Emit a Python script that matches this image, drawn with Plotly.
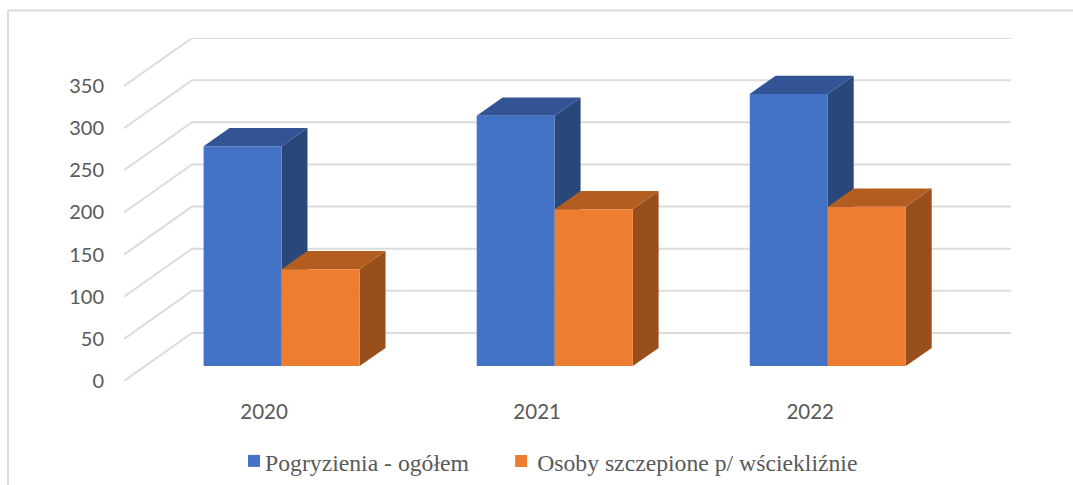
import plotly.graph_objects as go

# Data
years = ["2020", "2021", "2022"]
bites = [261, 297, 323]
vaccinated = [115, 186, 189]
value_ticks = [0, 50, 100, 150, 200, 250, 300, 350]
series_names = ["Pogryzienia - ogółem", "Osoby szczepione p/ wściekliźnie"]

W, H = 1073, 485
L, R, T, B = 124, 1010.7, 38, 381
PX_X = 273.0
PX_Y = 295 / 350
DX = 68 / PX_X
DY = 48 / PX_Y
BW = 78 / PX_X
D0, D1 = 0.31, 0.69
GRID = "#dcdcdc"
TXT = "#595959"


def px(xp):
    return (xp - L) / (R - L)


def py(yp):
    return (B - yp) / (B - T)


def proj(x, v, d):
    return x + d * DX, v + d * DY


def poly(points):
    xs, ys = zip(*points)
    return list(xs) + [xs[0], None], list(ys) + [ys[0], None]


def faces(values, left_off):
    front, side, top = ([], []), ([], []), ([], [])
    for i, v in enumerate(values):
        a = i + left_off
        b = a + BW
        for store, pts in (
            (side, [proj(b, 0, D0), proj(b, 0, D1), proj(b, v, D1), proj(b, v, D0)]),
            (top, [proj(a, v, D0), proj(b, v, D0), proj(b, v, D1), proj(a, v, D1)]),
            (front, [proj(a, 0, D0), proj(b, 0, D0), proj(b, v, D0), proj(a, v, D0)]),
        ):
            xs, ys = poly(pts)
            store[0].extend(xs)
            store[1].extend(ys)
    return front, side, top


fig = go.Figure()

# walls: gridlines on the left wall and on the back wall
gx, gy = [], []
for v in value_ticks:
    gx += [-0.5, -0.5 + DX, 2.5 + DX, None]
    gy += [v, v + DY, v + DY, None]
fig.add_trace(go.Scatter(x=gx, y=gy, mode="lines", line=dict(color=GRID, width=2),
                         hoverinfo="skip", showlegend=False))


def add_face(face, color, name):
    fig.add_trace(go.Scatter(x=face[0], y=face[1], mode="lines", fill="toself",
                             fillcolor=color, line=dict(width=0, color=color),
                             name=name, hoverinfo="name", showlegend=False))


series = [
    (bites, -BW, ("#4472c4", "#2a4779", "#325495")),
    (vaccinated, 0, ("#ed7d31", "#984f1c", "#b35e20")),
]
for (vals, off, cols), nm in zip(series, series_names):
    fr, si, to = faces(vals, off)
    add_face(si, cols[1], nm)
    add_face(to, cols[2], nm)
    add_face(fr, cols[0], nm)

# legend entries
legend_names = ["legend", "legend2"]
for nm, col, lg in zip(series_names, ["#4472c4", "#ed7d31"], legend_names):
    fig.add_trace(go.Scatter(x=[None], y=[None], mode="markers", name=nm, legend=lg,
                             marker=dict(symbol="square", size=12, color=col)))

legend_font = dict(family="Liberation Serif", size=23.7, color=TXT)
leg = dict(orientation="h", xanchor="left", yanchor="middle", y=py(462),
           font=legend_font, bgcolor="rgba(0,0,0,0)", itemsizing="trace")

fig.update_layout(
    width=W, height=H,
    margin=dict(l=L, r=W - R, t=T, b=H - B, autoexpand=False),
    paper_bgcolor="white", plot_bgcolor="white",
    xaxis=dict(range=[-0.5, -0.5 + (R - L) / PX_X], tickmode="array",
               tickvals=[i + 3.5 / PX_X for i in range(len(years))], ticktext=years,
               showgrid=False, zeroline=False, showline=False, ticks="outside",
               ticklen=12, tickcolor="rgba(0,0,0,0)",
               tickfont=dict(family="Lato", size=20.5, color=TXT), fixedrange=True),
    yaxis=dict(range=[0, (B - T) / PX_Y], tickmode="array", tickvals=value_ticks,
               showgrid=False, zeroline=False, showline=False, ticks="outside",
               ticklen=15, tickcolor="rgba(0,0,0,0)",
               tickfont=dict(family="Lato", size=20, color=TXT), fixedrange=True),
    legend=dict(x=px(225), **leg),
    legend2=dict(x=px(497), **leg),
    shapes=[
        dict(type="line", xref="paper", yref="paper", x0=px(8), x1=px(1073), y0=py(10.5), y1=py(10.5),
             line=dict(color=GRID, width=2)),
        dict(type="line", xref="paper", yref="paper", x0=px(8), x1=px(8), y0=py(10.5), y1=py(485),
             line=dict(color=GRID, width=2)),
    ],
)

# plotly keeps swatch and label 20 px apart; the reference sets them closer
post = """
document.body.style.margin='0';
var shifts=[9,4];
document.querySelectorAll('.legendsymbols').forEach(function(g,i){
  g.setAttribute('transform','translate('+shifts[i]+',-1)');
});
"""
fig.write_html("out.html", post_script=post, config={"displayModeBar": False})
